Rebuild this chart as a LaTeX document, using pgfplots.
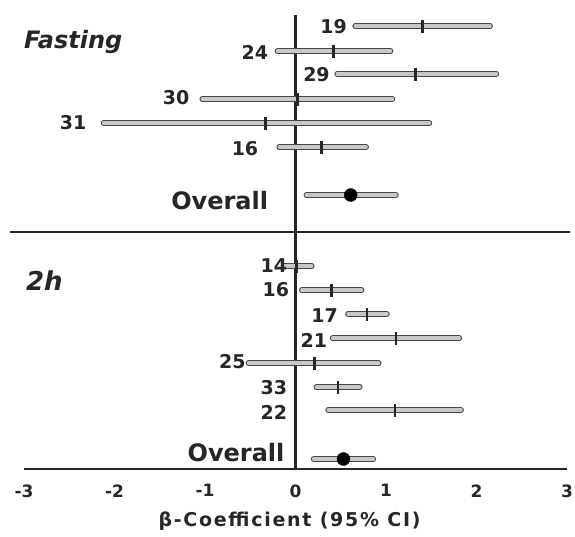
\documentclass[border=0pt]{standalone}
\usepackage{pgfplots}
\pgfplotsset{compat=1.18}
\usepackage{pgfplotstable}
\usepackage{fontspec}
\setmainfont{DejaVu Sans}

% y = row position (top down), lo/est/hi = beta and 95% CI
\pgfplotstableread{
y   lo     est    hi    labx   laby  label
26  0.66   1.40   2.15  0.57   27    19
51  -0.20  0.42   1.05  -0.30  52    24
74  0.46   1.33   2.22  0.38   75    29
99  -1.03  0.02   1.07  -1.17  98    30
123 -2.12  -0.33  1.48  -2.31  123   31
147 -0.18  0.29   0.78  -0.41  149   16
266 -0.12  0.01   0.18  -0.09  266   14
290 0.07   0.40   0.73  -0.07  290   16
314 0.58   0.79   1.01  0.47   316   17
338 0.41   1.11   1.81  0.35   340   21
363 -0.52  0.21   0.92  -0.55  362   25
387 0.23   0.47   0.71  -0.09  388   33
410 0.36   1.10   1.83  -0.09  412   22
}\studies

\pgfplotstableread{
y   lo    est   hi    labx   laby  label
195 0.12  0.61  1.11  -0.30  201   Overall
459 0.20  0.53  0.86  -0.12  453   Overall
}\overall

% CI bar = dark round-capped stroke with a lighter core
\pgfplotsset{
  ci outer/.style={quiver={u=\thisrow{hi}-\thisrow{lo}, v=0}, mark=none, -,
      line width=5.6pt, draw=black!72, line cap=round},
  ci inner/.style={quiver={u=\thisrow{hi}-\thisrow{lo}, v=0}, mark=none, -,
      line width=3.4pt, draw=black!22, line cap=round},
}

\begin{document}
\begin{tikzpicture}
\useasboundingbox (0,0) rectangle (575pt,-537pt);
\begin{axis}[
    at={(295.5pt,0pt)}, anchor=origin,
    x=90.5pt, y=1pt, y dir=reverse,
    xmin=-3, xmax=3, ymin=0, ymax=469,
    axis x line*=bottom, axis y line=none,
    x axis line style={line width=1.5pt, black!85},
    xtick={-3,...,3}, xticklabels={-3,-2,-1,0,1,2,3},
    ytick=\empty,
    major tick length=0pt,
    xticklabel style={font=\fontsize{17}{20}\selectfont\bfseries, text=black!85, yshift=-12pt},
    xlabel={β-Coefficient (95\% CI)},
    xlabel style={font=\fontsize{19}{22}\selectfont\bfseries\addfontfeature{LetterSpace=9}, text=black!85, xshift=-6pt, yshift=-8pt},
    clip=false,
]
% zero line and separator
\addplot[black!85, line width=2.2pt] coordinates {(0,15) (0,469)};
\addplot[black!85, line width=1.6pt] coordinates {(-3.155,232) (3.03,232)};

% confidence intervals
\addplot[ci outer] table[x=lo, y=y] {\studies};
\addplot[ci inner] table[x=lo, y=y] {\studies};
\addplot[ci outer] table[x=lo, y=y] {\overall};
\addplot[ci inner] table[x=lo, y=y] {\overall};

% point estimates
\addplot[only marks, mark=|, mark size=6.5pt, black!85, line width=2.8pt]
    table[x=est, y=y] {\studies};
\addplot[only marks, mark=*, mark size=6.5pt, mark options={black, fill=black}]
    table[x=est, y=y] {\overall};

% row labels
\addplot[draw=none, mark=none, nodes near coords, point meta=explicit symbolic,
    every node near coord/.append style={anchor=east, inner sep=0pt,
        font=\fontsize{19}{22}\selectfont\bfseries, text=black!85}]
    table[x=labx, y=laby, meta=label] {\studies};
\addplot[draw=none, mark=none, nodes near coords, point meta=explicit symbolic,
    every node near coord/.append style={anchor=east, inner sep=0pt,
        font=\fontsize{24}{28}\selectfont\bfseries, text=black!85}]
    table[x=labx, y=laby, meta=label] {\overall};

\node[anchor=base west, inner sep=0pt, font=\fontsize{24}{28}\selectfont\bfseries\itshape, text=black!85]
    at (axis cs:-3.0,48) {Fasting};
\node[anchor=base west, inner sep=0pt, font=\fontsize{26}{30}\selectfont\bfseries\itshape, text=black!85]
    at (axis cs:-2.98,290) {2h};
\end{axis}
\end{tikzpicture}
\end{document}
